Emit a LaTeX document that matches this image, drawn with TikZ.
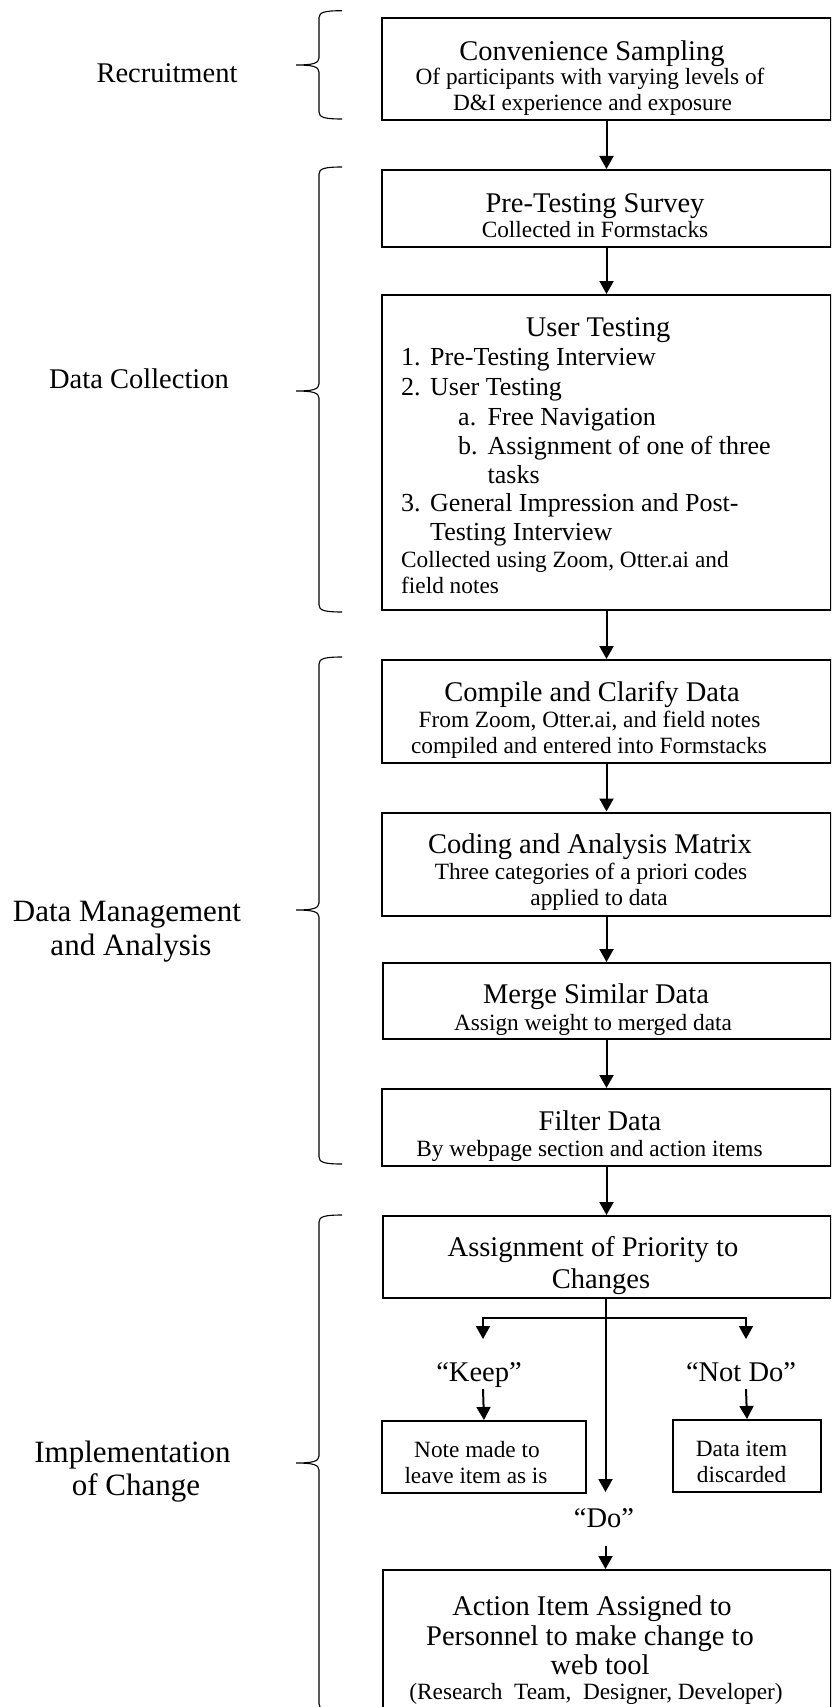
\documentclass[tikz,border=0pt]{standalone}
\usepackage{fontspec}
\setmainfont{Liberation Serif}
\usetikzlibrary{arrows.meta}
\newcommand\ftitle{\fontsize{28.5}{33}\selectfont}
\newcommand\fsub{\fontsize{23.3}{27}\selectfont}
\newcommand\flist{\fontsize{26}{29}\selectfont}
\newcommand\fleft{\fontsize{31}{34}\selectfont}
\newcommand\mybrace[3]{%
  \draw[brace] (342,#1) .. controls (325,#1) and (319,#1+1.5) .. (319,#1+7)
    -- (319,#2-7) .. controls (319,#2-1.5) and (312,#2) .. (296,#2)
    .. controls (312,#2) and (319,#2+1.5) .. (319,#2+7)
    -- (319,#3-7) .. controls (319,#3-1.5) and (325,#3) .. (342,#3);}
\begin{document}
\begin{tikzpicture}[x=1pt,y=-1pt,
  box/.style={draw, line width=2pt, inner sep=0pt, anchor=north west},
  arr/.style={line width=2pt, -{Triangle[width=14pt,length=13pt]}},
  ln/.style={line width=2pt},
  brace/.style={line width=1.1pt},
  tt/.style={anchor=base, inner sep=0pt, font=\ftitle},
  lab/.style={anchor=base, inner sep=0pt, font=\ftitle},
  st/.style={anchor=base, inner sep=0pt, font=\fsub},
  lt/.style={anchor=base west, inner sep=0pt, font=\flist},
  ct/.style={anchor=base west, inner sep=0pt, font=\fsub},
  side/.style={anchor=base, inner sep=0pt, font=\fleft},
]
\useasboundingbox (0,0) rectangle (831,1707);
\clip (0,0) rectangle (831,1707);

% boxes
\node[box, minimum width=449pt, minimum height=102.3pt] (b1) at (381,16.7) {};
\node[box, minimum width=449pt, minimum height=77pt] (b2) at (381,169) {};
\node[box, minimum width=449pt, minimum height=315pt] (b3) at (381,294) {};
\node[box, minimum width=449pt, minimum height=103pt] (b4) at (381,659) {};
\node[box, minimum width=449pt, minimum height=103.5pt] (b5) at (381,811.5) {};
\node[box, minimum width=448pt, minimum height=76pt] (b6) at (382,962) {};
\node[box, minimum width=449pt, minimum height=77pt] (b7) at (381,1088) {};
\node[box, minimum width=448pt, minimum height=82pt] (b8) at (382,1215) {};
\node[box, minimum width=204pt, minimum height=72pt] (keep) at (381,1420) {};
\node[box, minimum width=148pt, minimum height=72pt] (notdo) at (672,1419) {};
\node[box, minimum width=448pt, minimum height=170pt] (fin) at (382,1569) {};

% box texts
\node[tt] (t1a) at (592,60.5) {Convenience Sampling};
\node[st] (t1b) at (590,85) {Of participants with varying levels of};
\node[st] (t1c) at (592.5,111) {D\&I experience and exposure};

\node[tt] (t2a) at (595,212) {Pre-Testing Survey};
\node[st] (t2b) at (595,237) {Collected in Formstacks};

\node[tt] (t3a) at (598,336.5) {User Testing};
\node[lt] (t3b) at (401,365) {\makebox[29pt][l]{1.}Pre-Testing Interview};
\node[lt] (t3c) at (401,395) {\makebox[29pt][l]{2.}User Testing};
\node[lt] (t3d) at (458,425) {\makebox[29.5pt][l]{a.}Free Navigation};
\node[lt] (t3e) at (458,454) {\makebox[29.5pt][l]{b.}Assignment of one of three};
\node[lt] (t3f) at (487.5,483) {tasks};
\node[lt] (t3g) at (401,511) {\makebox[29pt][l]{3.}General Impression and Post-};
\node[lt] (t3h) at (430,540) {Testing Interview};
\node[ct] (t3i) at (401,567) {Collected using Zoom, Otter.ai and};
\node[ct] (t3j) at (401,593) {field notes};

\node[tt] (t4a) at (592,701) {Compile and Clarify Data};
\node[st] (t4b) at (589.5,727) {From Zoom, Otter.ai, and field notes};
\node[st] (t4c) at (589,753) {compiled and entered into Formstacks};

\node[tt] (t5a) at (590,853) {Coding and Analysis Matrix};
\node[st] (t5b) at (591,879.5) {Three categories of a priori codes};
\node[st] (t5c) at (599,905) {applied to data};

\node[tt] (t6a) at (596,1003) {Merge Similar Data};
\node[st] (t6b) at (593,1030) {Assign weight to merged data};

\node[tt] (t7a) at (600,1130) {Filter Data};
\node[st] (t7b) at (589.5,1156) {By webpage section and action items};

\node[tt] (t8a) at (593,1256) {Assignment of Priority to};
\node[tt] (t8b) at (601,1288) {Changes};

\node[lab] (kl) at (479,1381) {“Keep”};
\node[lab] (nl) at (741,1381) {“Not Do”};
\node[st] (tka) at (477,1457) {Note made to};
\node[st] (tkb) at (476,1483) {leave item as is};
\node[st] (tna) at (741.5,1456) {Data item};
\node[st] (tnb) at (741.5,1482) {discarded};
\node[lab] (dl) at (604,1527) {“Do”};

\node[tt] (tfa) at (592,1615) {Action Item Assigned to};
\node[tt] (tfb) at (590,1645) {Personnel to make change to};
\node[tt] (tfc) at (600,1674) {web tool};
\node[st] (tfd) at (596,1699) {(Research~~Team,~~Designer, Developer)};

% side labels
\node[tt] (s1) at (167,83) {Recruitment};
\node[tt] (s2) at (139,388) {Data Collection};
\node[side] (s3a) at (127,921) {Data Management};
\node[side] (s3b) at (131,955) {and Analysis};
\node[side] (s4a) at (132.5,1462) {Implementation};
\node[side] (s4b) at (136,1495) {of Change};

% braces
\mybrace{10.7}{65}{119}
\mybrace{167}{391}{612}
\mybrace{657}{910}{1164}
\mybrace{1215}{1463}{1711}

% main arrows
\draw[arr] (b1.south) -- (b2.north);
\draw[arr] (b2.south) -- (b3.north);
\draw[arr] (b3.south) -- (b4.north);
\draw[arr] (b4.south) -- (b5.north);
\draw[arr] (b5.south) -- (b5.south |- b6.north);
\draw[arr] (b6.south -| b7.north) -- (b7.north);
\draw[arr] (b7.south) -- (b7.south |- b8.north);

% branching
\coordinate (split) at (605.5,1318);
\coordinate (kt) at (483,1339);
\coordinate (nt) at (746,1339);
\coordinate (dt) at (605.5,1492);
\coordinate (ks) at (483,1389);
\coordinate (ns) at (746,1389);
\coordinate (ds) at (605.5,1546);
\draw[ln] (b8.south -| split) -- (split);
\draw[arr] (split) -| (kt);
\draw[arr] (split) -| (nt);
\draw[arr] (b8.south -| split) -- (dt);
\draw[arr] (ks) -- (keep.north);
\draw[arr] (ns) -- (notdo.north);
\draw[arr] (ds) -- (ds |- fin.north);
\end{tikzpicture}
\end{document}
